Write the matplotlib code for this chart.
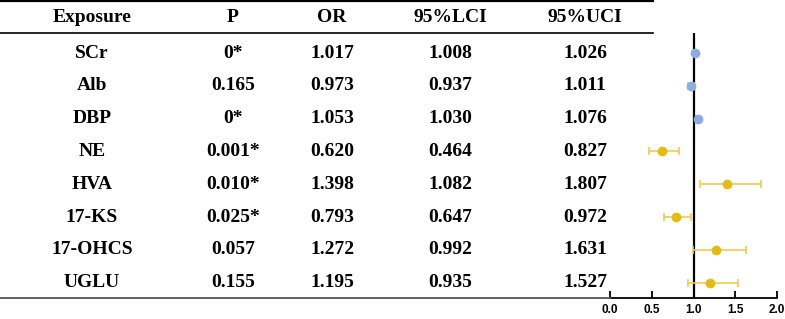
import numpy as np
import matplotlib
matplotlib.use("Agg")
import matplotlib.pyplot as plt
from matplotlib.lines import Line2D
import matplotlib.transforms as mtransforms

# table data
exposure = ["SCr", "Alb", "DBP", "NE", "HVA", "17-KS", "17-OHCS", "UGLU"]
p_text = ["0*", "0.165", "0*", "0.001*", "0.010*", "0.025*", "0.057", "0.155"]
odds = [1.017, 0.973, 1.053, 0.620, 1.398, 0.793, 1.272, 1.195]
lci = [1.008, 0.937, 1.030, 0.464, 1.082, 0.647, 0.992, 0.935]
uci = [1.026, 1.011, 1.076, 0.827, 1.807, 0.972, 1.631, 1.527]
group = ["blue", "blue", "blue", "yellow", "yellow", "yellow", "yellow", "yellow"]
headers = ["Exposure", "P", "OR", "95%LCI", "95%UCI"]
xticks = [0.0, 0.5, 1.0, 1.5, 2.0]

W, H = 785, 319
fig = plt.figure(figsize=(W / 100, H / 100), dpi=100)

# forest axes placed in pixel terms
x0, x1 = 610, 777
y_top, y_bot = 33, 298
ax = fig.add_axes([x0 / W, (H - y_bot) / H, (x1 - x0) / W, (y_bot - y_top) / H])

row0, step = 53, 32.8
ax.set_ylim((y_bot - row0) / step, (y_top - row0) / step)
ax.set_xlim(0, 2)

colors = {"blue": "#8BAEDC", "yellow": "#E3BA17"}
ecolors = {"blue": "#A9C2E6", "yellow": "#EDCC55"}
for i in range(len(exposure)):
    c = group[i]
    ax.errorbar(odds[i], i, xerr=[[odds[i] - lci[i]], [uci[i] - odds[i]]],
                fmt="o", color=colors[c], ecolor=ecolors[c], ms=6,
                elinewidth=1.2, capsize=3, capthick=1.2, zorder=3)

ax.axvline(1.0, color="black", lw=1.6, zorder=2)

for s in ["top", "right", "left"]:
    ax.spines[s].set_visible(False)
ax.spines["bottom"].set_linewidth(1.3)
ax.set_yticks([])
ax.set_xticks(xticks)
ax.set_xticklabels([f"{t:.1f}" for t in xticks],
                   fontdict=dict(family="Liberation Sans", weight="bold", size=8.5))
ax.tick_params(axis="x", direction="in", length=5, width=1.3, pad=4)

# table text: figure x, data y
trans = mtransforms.blended_transform_factory(fig.transFigure, ax.transData)
col_x = [92, 233, 332, 450, 585]
font = dict(family="Liberation Serif", weight="bold", size=14, ha="center", va="center")

for j, h in enumerate(headers):
    fig.text(col_x[j] / W, (H - 17) / H, h, **font)

for i in range(len(exposure)):
    vals = [exposure[i], p_text[i], f"{odds[i]:.3f}", f"{lci[i]:.3f}", f"{uci[i]:.3f}"]
    for j, v in enumerate(vals):
        fig.text(col_x[j] / W, i, v, transform=trans, **font)

# table rules
fig.add_artist(Line2D([0, 653 / W], [(H - 1) / H] * 2, color="black", lw=1.6))
fig.add_artist(Line2D([0, 653 / W], [(H - 33) / H] * 2, color="black", lw=1.2))
fig.add_artist(Line2D([0, x0 / W], [(H - y_bot) / H] * 2, color="#555555", lw=1.3))

plt.savefig("out.png", dpi=100)
plt.close()
